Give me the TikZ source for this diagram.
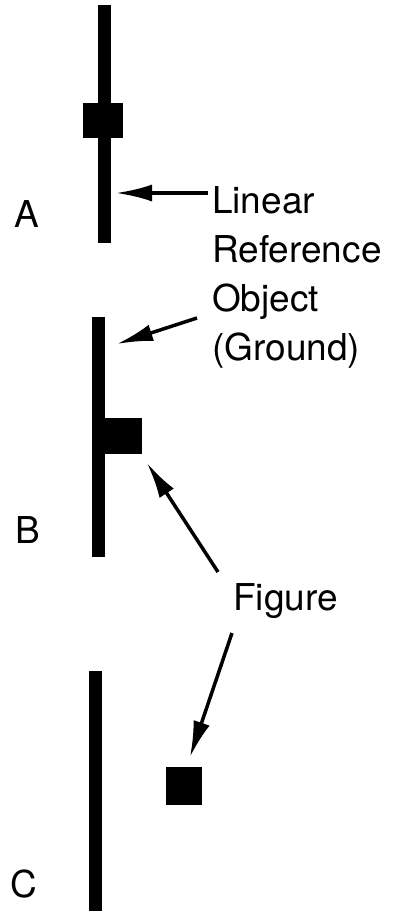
\documentclass[tikz,border=0pt]{standalone}
\usepackage{fontspec}
\setmainfont{TeX Gyre Heros}
\usetikzlibrary{arrows.meta}
\tikzset{
  groundbar/.style={rectangle, fill=black, inner sep=0pt, minimum width=13pt},
  figbox/.style={rectangle, fill=black, inner sep=0pt},
  lbl/.style={inner sep=0pt, font=\fontsize{37}{49}\selectfont},
  pointer/.style={line width=3.5pt, -{Latex[length=36pt,width=17pt]}}
}
\begin{document}
\begin{tikzpicture}[x=1pt,y=-1pt]
\useasboundingbox (0,0) rectangle (393,913);
% A: figure on the ground
\node[groundbar, minimum height=238pt] (barA) at (104.5,124) {};
\node[figbox, minimum width=40pt, minimum height=35pt] (sqA) at (103,120.5) {};
\node[lbl, anchor=base west] (labA) at (14,227) {A};

% B: figure next to the ground
\node[groundbar, minimum height=240pt] (barB) at (98.5,437) {};
\node[figbox, minimum width=37pt, minimum height=36pt] (sqB) at (123.5,436) {};
\node[lbl, anchor=base west] (labB) at (15,543) {B};

% C: figure away from the ground
\node[groundbar, minimum height=240pt] (barC) at (95.5,791) {};
\node[figbox, minimum width=36pt, minimum height=38pt] (sqC) at (184,786) {};
\node[lbl, anchor=base west] (labC) at (10,897) {C};

% labels
\node[lbl, align=left, anchor=north west] (ground) at (212,186) {Linear\\Reference\\Object\\(Ground)};
\node[lbl, anchor=base west] (figure) at (233,610) {Figure};

% arrows
\coordinate (tailA) at (208,193);
\coordinate (tipA) at (116,193);
\coordinate (tailB) at (197,318);
\coordinate (tipB) at (117,344);
\coordinate (tailF1) at (218,572);
\coordinate (tipF1) at (147,463);
\coordinate (tailF2) at (232,633);
\coordinate (tipF2) at (190,757);
\draw[pointer] (tailA) -- (tipA);
\draw[pointer] (tailB) -- (tipB);
\draw[pointer] (tailF1) -- (tipF1);
\draw[pointer] (tailF2) -- (tipF2);
\end{tikzpicture}
\end{document}
